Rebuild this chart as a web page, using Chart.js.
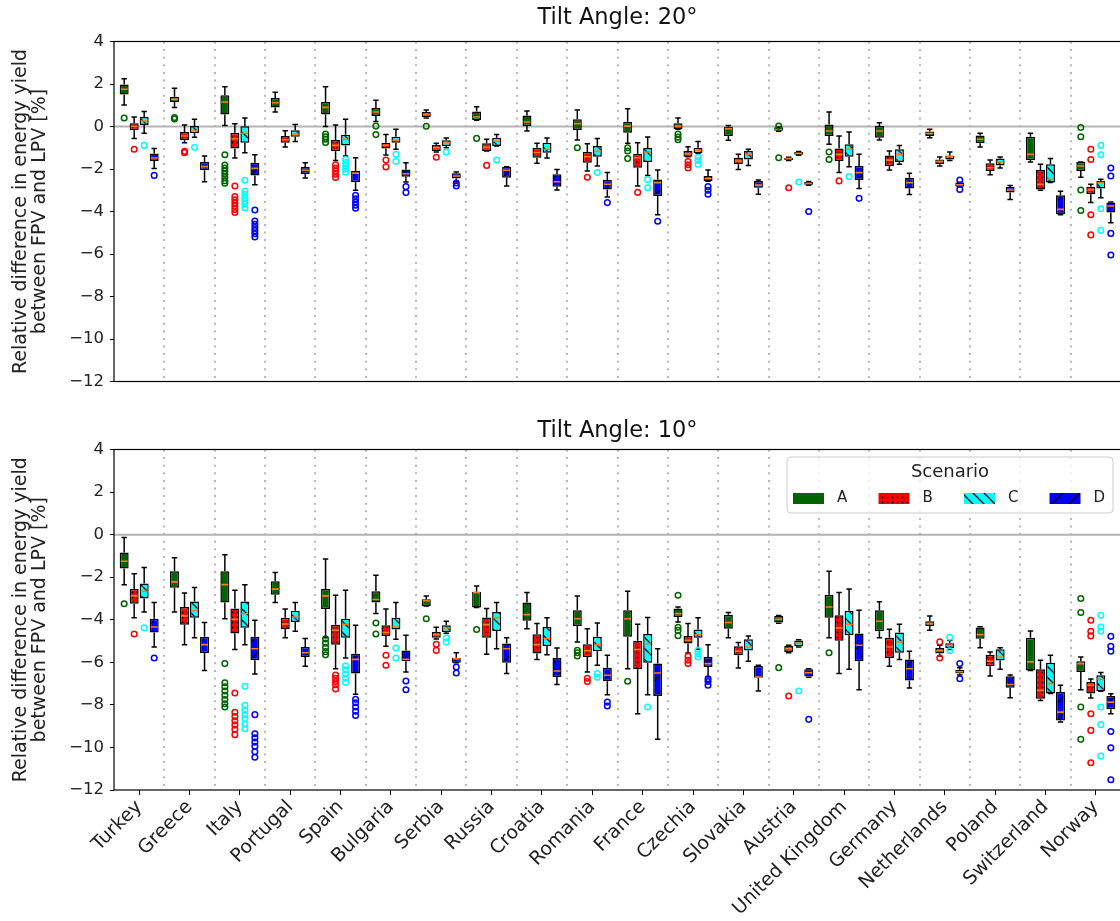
<!DOCTYPE html>
<html><head><meta charset="utf-8">
<script src="https://cdn.jsdelivr.net/npm/chart.js@4.4.0/dist/chart.umd.min.js"></script>
<style>
html,body{margin:0;padding:0;background:#fff;overflow:hidden;width:1120px;height:921px;}
#c1{position:absolute;left:0;top:0;}
#c2{position:absolute;left:0;top:400px;}
</style></head><body>
<canvas id="c1" width="1125" height="400"></canvas>
<canvas id="c2" width="1125" height="521"></canvas>
<script>
const categories = ['Turkey','Greece','Italy','Portugal','Spain','Bulgaria','Serbia','Russia','Croatia','Romania','France','Czechia','Slovakia','Austria','United Kingdom','Germany','Netherlands','Poland','Switzerland','Norway'];
const scenarios = ['A','B','C','D'];
const yTicks = [4,2,0,-2,-4,-6,-8,-10,-12];
const panelTitles = ['Tilt Angle: 20\u00b0','Tilt Angle: 10\u00b0'];
const yTitle = ['Relative difference in energy yield','between FPV and LPV [%]'];
const legendTitle = 'Scenario';

// each box: [lowWhisker, q1, median, q3, highWhisker]
const t20_A = [[1.01,1.51,1.75,1.98,2.25],[0.89,1.15,1.28,1.40,1.80],[0.05,0.56,1.15,1.47,1.87],[0.68,0.90,1.12,1.34,1.61],[0.00,0.56,0.90,1.15,1.87],[0.24,0.49,0.68,0.87,1.23],[0.40,0.43,0.57,0.68,0.78],[0.30,0.31,0.45,0.71,0.93],[-0.21,0.02,0.21,0.52,0.73],[-0.64,-0.16,0.13,0.34,0.78],[-0.79,-0.29,0.02,0.21,0.84],[-0.13,-0.13,0.02,0.15,0.40],[-0.65,-0.45,-0.10,-0.01,0.05],[-0.22,-0.20,-0.13,-0.04,-0.02],[-0.84,-0.45,-0.21,0.10,0.68],[-0.64,-0.53,-0.21,0.02,0.18],[-0.53,-0.45,-0.32,-0.23,-0.13],[-0.96,-0.79,-0.60,-0.42,-0.32],[-1.67,-1.58,-1.31,-0.48,-0.32],[-2.39,-2.09,-1.86,-1.67,-1.67]];
const t20_B = [[-0.57,-0.18,0.00,0.15,0.45],[-0.76,-0.65,-0.45,-0.26,0.07],[-1.48,-1.03,-0.57,-0.29,0.13],[-0.96,-0.76,-0.62,-0.45,-0.20],[-1.60,-1.17,-0.89,-0.64,0.07],[-1.34,-1.03,-0.89,-0.76,-0.38],[-1.20,-1.17,-1.00,-0.87,-0.79],[-1.15,-1.15,-0.98,-0.79,-0.60],[-1.73,-1.47,-1.22,-1.00,-0.79],[-2.09,-1.70,-1.42,-1.20,-0.81],[-2.80,-1.94,-1.47,-1.28,-0.76],[-1.42,-1.42,-1.29,-1.15,-0.95],[-2.02,-1.78,-1.62,-1.47,-1.31],[-1.60,-1.58,-1.51,-1.47,-1.45],[-2.17,-1.62,-1.31,-1.04,-0.45],[-2.05,-1.86,-1.58,-1.36,-1.15],[-1.86,-1.78,-1.64,-1.55,-1.43],[-2.27,-2.09,-1.94,-1.73,-1.58],[-3.00,-2.96,-2.72,-2.05,-1.78],[-3.58,-3.19,-2.99,-2.83,-2.72]];
const t20_C = [[-0.32,0.07,0.26,0.45,0.71],[-0.51,-0.32,-0.20,0.02,0.34],[-1.23,-0.76,-0.32,0.01,0.40],[-0.70,-0.48,-0.37,-0.18,0.09],[-1.39,-0.89,-0.60,-0.39,0.34],[-1.07,-0.76,-0.64,-0.48,-0.13],[-1.00,-0.92,-0.76,-0.65,-0.54],[-0.92,-0.92,-0.68,-0.53,-0.38],[-1.48,-1.23,-1.07,-0.76,-0.54],[-1.86,-1.42,-1.17,-0.92,-0.57],[-2.30,-1.67,-1.20,-1.01,-0.49],[-1.26,-1.26,-1.12,-1.00,-0.70],[-1.83,-1.55,-1.31,-1.15,-1.07],[-1.35,-1.33,-1.26,-1.20,-1.18],[-1.89,-1.42,-1.07,-0.84,-0.26],[-1.78,-1.67,-1.31,-1.07,-0.89],[-1.60,-1.55,-1.42,-1.36,-1.20],[-1.95,-1.83,-1.67,-1.51,-1.43],[-2.64,-2.64,-2.49,-1.78,-1.51],[-3.35,-2.92,-2.64,-2.56,-2.48]];
const t20_D = [[-1.98,-1.62,-1.48,-1.27,-1.03],[-2.60,-2.06,-1.89,-1.67,-1.39],[-2.74,-2.30,-1.97,-1.70,-1.33],[-2.42,-2.24,-2.06,-1.91,-1.70],[-3.00,-2.61,-2.20,-2.09,-1.47],[-2.61,-2.36,-2.22,-2.02,-1.70],[-2.61,-2.45,-2.33,-2.20,-2.14],[-2.80,-2.41,-2.06,-1.89,-1.89],[-2.99,-2.83,-2.60,-2.25,-2.02],[-3.32,-2.96,-2.72,-2.52,-2.17],[-4.15,-3.27,-2.64,-2.49,-2.05],[-2.58,-2.58,-2.45,-2.33,-2.05],[-3.19,-2.88,-2.76,-2.56,-2.52],[-2.76,-2.74,-2.67,-2.61,-2.59],[-2.92,-2.52,-2.17,-1.86,-1.31],[-3.20,-2.92,-2.64,-2.41,-2.20],[-2.85,-2.83,-2.74,-2.64,-2.62],[-3.43,-3.11,-2.99,-2.85,-2.78],[-4.15,-4.13,-3.90,-3.24,-3.05],[-4.53,-4.05,-3.74,-3.58,-3.55]];

const t20_A_out = [[0.40],[0.35,0.42],[-1.33,-1.81,-1.95,-2.10,-2.25,-2.40,-2.55,-2.67],[],[-0.35,-0.48,-0.60,-0.75],[0.02,-0.38],[0.01],[-0.56],[],[-1.00],[-1.00,-1.15,-1.51],[-0.35,-0.50,-0.62],[],[0.02,-1.47],[-1.20,-1.55],[],[],[],[],[-0.05,-0.48,-2.99,-3.95]];
const t20_B_out = [[-1.07],[-1.17,-1.23],[-2.80,-3.30,-3.45,-3.60,-3.75,-3.90,-4.05],[],[-1.80,-1.95,-2.10,-2.25,-2.40],[-1.58,-1.90],[-1.45],[-1.83],[],[-2.39],[-3.10],[-1.65,-1.80,-1.95],[],[-2.88],[-2.56],[],[],[],[],[-1.07,-1.55,-4.15,-5.10]];
const t20_C_out = [[-0.89],[-0.98],[-2.53,-3.04,-3.20,-3.35,-3.50,-3.65,-3.82],[],[-1.55,-1.70,-1.85,-2.00,-2.15],[-1.31,-1.64],[-1.20],[-1.58],[],[-2.17],[-2.50,-2.88],[-1.45,-1.60,-1.78],[],[-2.61],[-2.36],[],[],[],[],[-0.89,-1.33,-3.87,-4.89]];
const t20_D_out = [[-2.30],[],[-3.93,-4.45,-4.60,-4.75,-4.90,-5.05,-5.20],[],[-3.24,-3.40,-3.55,-3.70,-3.85],[-2.83,-3.11],[-2.66,-2.80],[],[],[-3.58],[-4.46],[-2.83,-3.00,-3.19],[],[-4.00],[-3.38],[],[-2.52,-2.96],[],[],[-1.95,-2.33,-5.03,-6.05]];

const t10_A = [[-2.35,-1.59,-1.25,-0.84,-0.13],[-3.63,-2.50,-2.22,-1.72,-1.09],[-3.95,-3.19,-2.35,-1.72,-0.94],[-3.19,-2.82,-2.56,-2.19,-1.78],[-4.85,-3.50,-2.88,-2.56,-1.15],[-3.71,-3.19,-3.05,-2.66,-1.91],[-3.35,-3.35,-3.11,-3.04,-2.88],[-3.43,-3.43,-2.72,-2.69,-2.41],[-4.42,-4.05,-3.76,-3.19,-2.72],[-5.04,-4.29,-3.95,-3.55,-2.88],[-6.30,-4.80,-3.95,-3.55,-2.66],[-4.10,-3.87,-3.71,-3.47,-3.40],[-4.85,-4.42,-4.13,-3.76,-3.66],[-4.16,-4.13,-3.98,-3.82,-3.80],[-4.85,-3.91,-3.40,-2.82,-1.72],[-4.85,-4.54,-4.07,-3.55,-3.16],[-4.49,-4.29,-4.18,-4.07,-3.82],[-5.31,-4.89,-4.70,-4.37,-4.33],[-6.38,-6.38,-5.98,-4.84,-4.53],[-7.29,-6.45,-6.06,-5.95,-5.75]];
const t10_B = [[-3.91,-3.25,-2.88,-2.56,-1.84],[-5.17,-4.23,-3.82,-3.40,-2.74],[-5.40,-4.65,-3.98,-3.47,-2.61],[-4.85,-4.45,-4.20,-3.91,-3.50],[-6.30,-5.17,-4.49,-4.23,-2.85],[-5.25,-4.76,-4.60,-4.26,-3.50],[-4.90,-4.85,-4.70,-4.57,-4.35],[-5.62,-4.85,-4.23,-3.90,-3.47],[-5.87,-5.59,-5.17,-4.68,-4.18],[-6.45,-5.75,-5.46,-5.15,-4.42],[-8.42,-6.33,-5.40,-4.99,-4.21],[-5.56,-5.12,-4.96,-4.76,-4.18],[-6.27,-5.67,-5.48,-5.25,-5.07],[-5.55,-5.51,-5.36,-5.23,-5.20],[-6.53,-4.99,-4.38,-3.79,-2.72],[-6.19,-5.80,-5.28,-4.85,-4.45],[-5.70,-5.59,-5.46,-5.33,-5.20],[-6.64,-6.19,-5.95,-5.64,-5.52],[-7.79,-7.71,-7.32,-6.33,-5.90],[-7.68,-7.47,-7.08,-6.92,-6.78]];
const t10_C = [[-3.63,-3.00,-2.66,-2.30,-1.55],[-4.85,-3.91,-3.58,-3.14,-2.49],[-5.17,-4.38,-3.71,-3.14,-2.35],[-4.54,-4.10,-3.87,-3.58,-3.19],[-5.80,-4.85,-4.21,-3.95,-2.61],[-4.92,-4.46,-4.34,-3.91,-3.19],[-4.63,-4.57,-4.39,-4.26,-4.07],[-5.36,-4.53,-3.90,-3.63,-3.19],[-5.64,-5.23,-4.88,-4.34,-3.91],[-6.14,-5.48,-5.17,-4.80,-4.15],[-7.52,-6.02,-5.12,-4.67,-3.90],[-5.39,-4.85,-4.70,-4.46,-3.91],[-5.95,-5.44,-5.28,-4.92,-4.76],[-5.28,-5.25,-5.10,-4.97,-4.94],[-6.33,-4.73,-4.21,-3.58,-2.56],[-5.87,-5.55,-5.04,-4.60,-4.21],[-5.40,-5.33,-5.20,-5.10,-4.98],[-6.33,-5.91,-5.75,-5.39,-5.31],[-7.47,-7.47,-7.00,-6.02,-5.67],[-7.36,-7.36,-6.80,-6.61,-6.48]];
const t10_D = [[-5.28,-4.60,-4.34,-3.95,-3.19],[-6.39,-5.56,-5.17,-4.80,-4.13],[-6.55,-5.90,-5.36,-4.80,-4.02],[-6.19,-5.75,-5.55,-5.28,-4.88],[-7.50,-6.53,-5.86,-5.60,-4.26],[-6.45,-5.95,-5.86,-5.44,-4.73],[-6.02,-6.02,-5.83,-5.78,-5.55],[-6.53,-6.02,-5.36,-5.12,-4.85],[-7.04,-6.69,-6.41,-5.78,-5.33],[-7.52,-6.89,-6.61,-6.25,-5.67],[-9.62,-7.58,-6.50,-6.06,-5.36],[-6.69,-6.22,-6.06,-5.75,-5.17],[-7.35,-6.72,-6.69,-6.17,-6.14],[-6.70,-6.67,-6.49,-6.33,-6.30],[-7.29,-5.95,-5.20,-4.65,-3.55],[-7.21,-6.85,-6.30,-5.87,-5.48],[-6.60,-6.53,-6.44,-6.35,-6.25],[-7.66,-7.19,-7.04,-6.66,-6.60],[-8.81,-8.73,-8.34,-7.40,-7.08],[-8.42,-8.21,-7.87,-7.58,-7.48]];

const t10_A_out = [[-3.25],[],[-6.06,-6.96,-7.15,-7.35,-7.55,-7.75,-7.95,-8.10],[],[-4.90,-5.10,-5.30,-5.50,-5.65],[-4.15,-4.67],[-3.95],[-4.46],[],[-5.43,-5.55,-5.70],[-6.89],[-2.85,-4.35,-4.50,-4.75],[],[-6.25],[-5.55],[],[],[],[],[-3.00,-3.66,-8.10,-9.62]];
const t10_B_out = [[-4.67],[],[-7.44,-8.35,-8.55,-8.75,-8.95,-9.15,-9.40],[],[-6.60,-6.75,-6.90,-7.05,-7.25],[-5.67,-6.14],[-5.15,-5.44],[],[],[-6.75,-6.90],[],[-5.72,-5.90,-6.06],[],[-7.58],[],[],[-5.04,-5.80],[],[],[-4.02,-4.54,-4.76,-8.42,-9.20,-10.72]];
const t10_C_out = [[-4.38],[],[-7.13,-8.02,-8.25,-8.45,-8.65,-8.90,-9.12],[],[-6.17,-6.35,-6.55,-6.75,-6.95],[-5.33,-5.80],[-4.85,-5.05],[],[],[-6.53,-6.70],[-8.10],[-5.44,-5.60,-5.75],[],[-7.35],[],[],[-4.82,-5.46],[],[],[-3.79,-4.34,-4.54,-8.10,-8.93,-10.41]];
const t10_D_out = [[-5.80],[],[-8.46,-9.36,-9.55,-9.75,-9.95,-10.20,-10.46],[],[-7.74,-7.90,-8.10,-8.30,-8.50],[-6.88,-7.29],[-6.22,-6.50],[],[],[-7.87,-8.05],[],[-6.77,-6.90,-7.08],[],[-8.68],[],[],[-6.06,-6.77],[],[],[-4.78,-5.25,-5.48,-9.25,-10.02,-11.52]];

// ---------- styles ----------
const FONT = 'DejaVu Sans';
const boxColors = ['#006400','#ff0000','#00ffff','#0000ff'];
const outlierColors = ['#006400','#ff0000','#00ffff','#0000ff'];
const hatchKinds = ['solid','dots','back','fwd'];

function makeFill(kind, bg){
  if (kind === 'solid') return bg;
  const s = kind === 'dots' ? 5 : (kind === 'back' ? 11 : 17);
  const c = document.createElement('canvas'); c.width = s; c.height = s;
  const g = c.getContext('2d');
  g.fillStyle = bg; g.fillRect(0,0,s,s);
  g.fillStyle = '#000'; g.strokeStyle = '#000'; g.lineWidth = 1.3;
  if (kind === 'dots') { g.beginPath(); g.arc(s/2, s/2, 0.95, 0, Math.PI*2); g.fill(); }
  else {
    g.beginPath();
    for (let k=-1;k<=1;k++){
      if (kind === 'back'){ g.moveTo(k*s,0); g.lineTo(k*s+s,s); }
      else { g.moveTo(k*s,s); g.lineTo(k*s+s,0); }
    }
    g.stroke();
  }
  return g.createPattern(c,'repeat');
}
const fills = scenarios.map((s,k)=>makeFill(hatchKinds[k], boxColors[k]));

function makePlugin(stats, outliers, title, titleY, showLegend){
  return {
    id: 'boxextras',
    beforeDatasetsDraw(chart){
      const ctx = chart.ctx, a = chart.chartArea, xs = chart.scales.x, ys = chart.scales.y;
      ctx.save();
      ctx.strokeStyle = '#b8b8b8'; ctx.lineWidth = 2; ctx.setLineDash([2,5.6]);
      for (let i=0;i<categories.length-1;i++){
        const x = Math.round((xs.getPixelForValue(i)+xs.getPixelForValue(i+1))/2);
        ctx.beginPath(); ctx.moveTo(x, a.top); ctx.lineTo(x, a.bottom); ctx.stroke();
      }
      ctx.setLineDash([]);
      const y0 = ys.getPixelForValue(0);
      ctx.strokeStyle = '#b3b3b3'; ctx.lineWidth = 2;
      ctx.beginPath(); ctx.moveTo(a.left, y0); ctx.lineTo(a.right, y0); ctx.stroke();
      ctx.restore();
    },
    afterDatasetsDraw(chart){
      const ctx = chart.ctx, ys = chart.scales.y, a = chart.chartArea;
      ctx.save();
      ctx.beginPath(); ctx.rect(a.left, a.top, a.right-a.left, a.bottom-a.top); ctx.clip();
      stats.forEach((ser,k)=>{
        const meta = chart.getDatasetMeta(k);
        ser.forEach((b,i)=>{
          const el = meta.data[i];
          const p = el.getProps(['x','width'], true);
          const x = p.x, w = p.width;
          const [lo,q1,med,q3,hi] = b;
          const pLo = ys.getPixelForValue(lo), pQ1 = ys.getPixelForValue(q1), pMed = ys.getPixelForValue(med), pQ3 = ys.getPixelForValue(q3), pHi = ys.getPixelForValue(hi);
          ctx.strokeStyle = '#000'; ctx.lineWidth = 1.5;
          ctx.beginPath();
          ctx.moveTo(x,pQ3); ctx.lineTo(x,pHi);
          ctx.moveTo(x,pQ1); ctx.lineTo(x,pLo);
          const cw = w*0.6;
          ctx.moveTo(x-cw/2,pHi); ctx.lineTo(x+cw/2,pHi);
          ctx.moveTo(x-cw/2,pLo); ctx.lineTo(x+cw/2,pLo);
          ctx.stroke();
          ctx.strokeStyle = '#ff7f0e'; ctx.lineWidth = 1.6;
          ctx.beginPath(); ctx.moveTo(x-w/2+1,pMed); ctx.lineTo(x+w/2-1,pMed); ctx.stroke();
          ctx.strokeStyle = outlierColors[k]; ctx.lineWidth = 1.5;
          outliers[k][i].forEach(v=>{
            const py = ys.getPixelForValue(v);
            ctx.beginPath(); ctx.arc(x, py, 2.8, 0, Math.PI*2); ctx.stroke();
          });
        });
      });
      ctx.restore();
    },
    afterDraw(chart){
      const ctx = chart.ctx, a = chart.chartArea;
      ctx.save();
      ctx.strokeStyle = '#000'; ctx.lineWidth = 1.2;
      ctx.strokeRect(a.left, a.top, a.right-a.left, a.bottom-a.top);
      ctx.fillStyle = '#111'; ctx.font = '22.5px "'+FONT+'"'; ctx.textAlign = 'center'; ctx.textBaseline = 'middle';
      ctx.fillText(title, (a.left+a.right)/2, titleY);
      if (showLegend){
        const w = 326, h = 56, x0 = a.right - 8 - w, y0 = a.top + 7.5, r = 4;
        ctx.beginPath();
        ctx.moveTo(x0+r,y0); ctx.lineTo(x0+w-r,y0); ctx.quadraticCurveTo(x0+w,y0,x0+w,y0+r);
        ctx.lineTo(x0+w,y0+h-r); ctx.quadraticCurveTo(x0+w,y0+h,x0+w-r,y0+h);
        ctx.lineTo(x0+r,y0+h); ctx.quadraticCurveTo(x0,y0+h,x0,y0+h-r);
        ctx.lineTo(x0,y0+r); ctx.quadraticCurveTo(x0,y0,x0+r,y0); ctx.closePath();
        ctx.fillStyle = 'rgba(255,255,255,0.8)'; ctx.fill();
        ctx.strokeStyle = '#cccccc'; ctx.lineWidth = 1; ctx.stroke();
        ctx.fillStyle = '#222'; ctx.font = '18px "'+FONT+'"'; ctx.textAlign = 'center'; ctx.textBaseline = 'middle';
        ctx.fillText(legendTitle, x0 + w/2, y0 + 15);
        scenarios.forEach((s,k)=>{
          const px = x0 + 6 + k*85.5, py = y0 + 36;
          ctx.fillStyle = fills[k]; ctx.fillRect(px, py, 31, 11);
          ctx.fillStyle = '#222'; ctx.font = '15px "'+FONT+'"'; ctx.textAlign = 'left'; ctx.textBaseline = 'middle';
          ctx.fillText(s, px + 44, py + 5.5);
        });
      }
      ctx.restore();
    }
  };
}

function makeChart(id, stats, outliers, title, cfg){
  const datasets = scenarios.map((s,k)=>({
    label: s,
    data: stats[k].map(b=>[b[1], b[3]]),
    backgroundColor: fills[k],
    borderColor: '#000',
    borderWidth: 1.5,
    borderSkipped: false,
    categoryPercentage: 0.795,
    barPercentage: 0.9
  }));
  return new Chart(document.getElementById(id), {
    type: 'bar',
    data: { labels: categories, datasets },
    options: {
      responsive: false, animation: false, devicePixelRatio: 1,
      layout: { padding: { top: cfg.padTop, bottom: cfg.padBottom, right: 4, left: 0 } },
      plugins: { legend: { display: false }, tooltip: { enabled: false }, title: { display: false } },
      scales: {
        x: {
          type: 'category', offset: true,
          grid: { display: true, drawOnChartArea: false, drawTicks: cfg.showX, tickLength: 5, offset: false, color: '#000', lineWidth: 1 },
          border: { display: false },
          ticks: { display: cfg.showX, autoSkip: false, maxRotation: 45, minRotation: 45, color: '#222', padding: 1, font: { family: FONT, size: 19 } },
          afterFit(s){ s.height = cfg.xHeight; }
        },
        y: {
          min: -12, max: 4,
          afterBuildTicks(s){ s.ticks = yTicks.map(v=>({value:v})); },
          ticks: { color: '#222', padding: 6, font: { family: FONT, size: 16.5 }, callback: v => v < 0 ? '\u2212' + Math.abs(v) : String(v) },
          grid: { drawOnChartArea: false, drawTicks: true, tickLength: 4, color: '#000', lineWidth: 1 },
          border: { display: false },
          title: { display: true, text: yTitle, color: '#222', font: { family: FONT, size: 19, lineHeight: 1.0 }, padding: { top: 11.5, bottom: 0 } },
          afterFit(s){ s.width = 114; }
        }
      }
    },
    plugins: [makePlugin(stats, outliers, title, cfg.titleY, cfg.legend)]
  });
}

makeChart('c1', [t20_A,t20_B,t20_C,t20_D], [t20_A_out,t20_B_out,t20_C_out,t20_D_out], panelTitles[0],
  { padTop: 41.5, padBottom: 18.5, xHeight: 0, showX: false, titleY: 18, legend: false });
makeChart('c2', [t10_A,t10_B,t10_C,t10_D], [t10_A_out,t10_B_out,t10_C_out,t10_D_out], panelTitles[1],
  { padTop: 49.5, padBottom: 0, xHeight: 131, showX: true, titleY: 31, legend: true });
</script>
</body></html>
